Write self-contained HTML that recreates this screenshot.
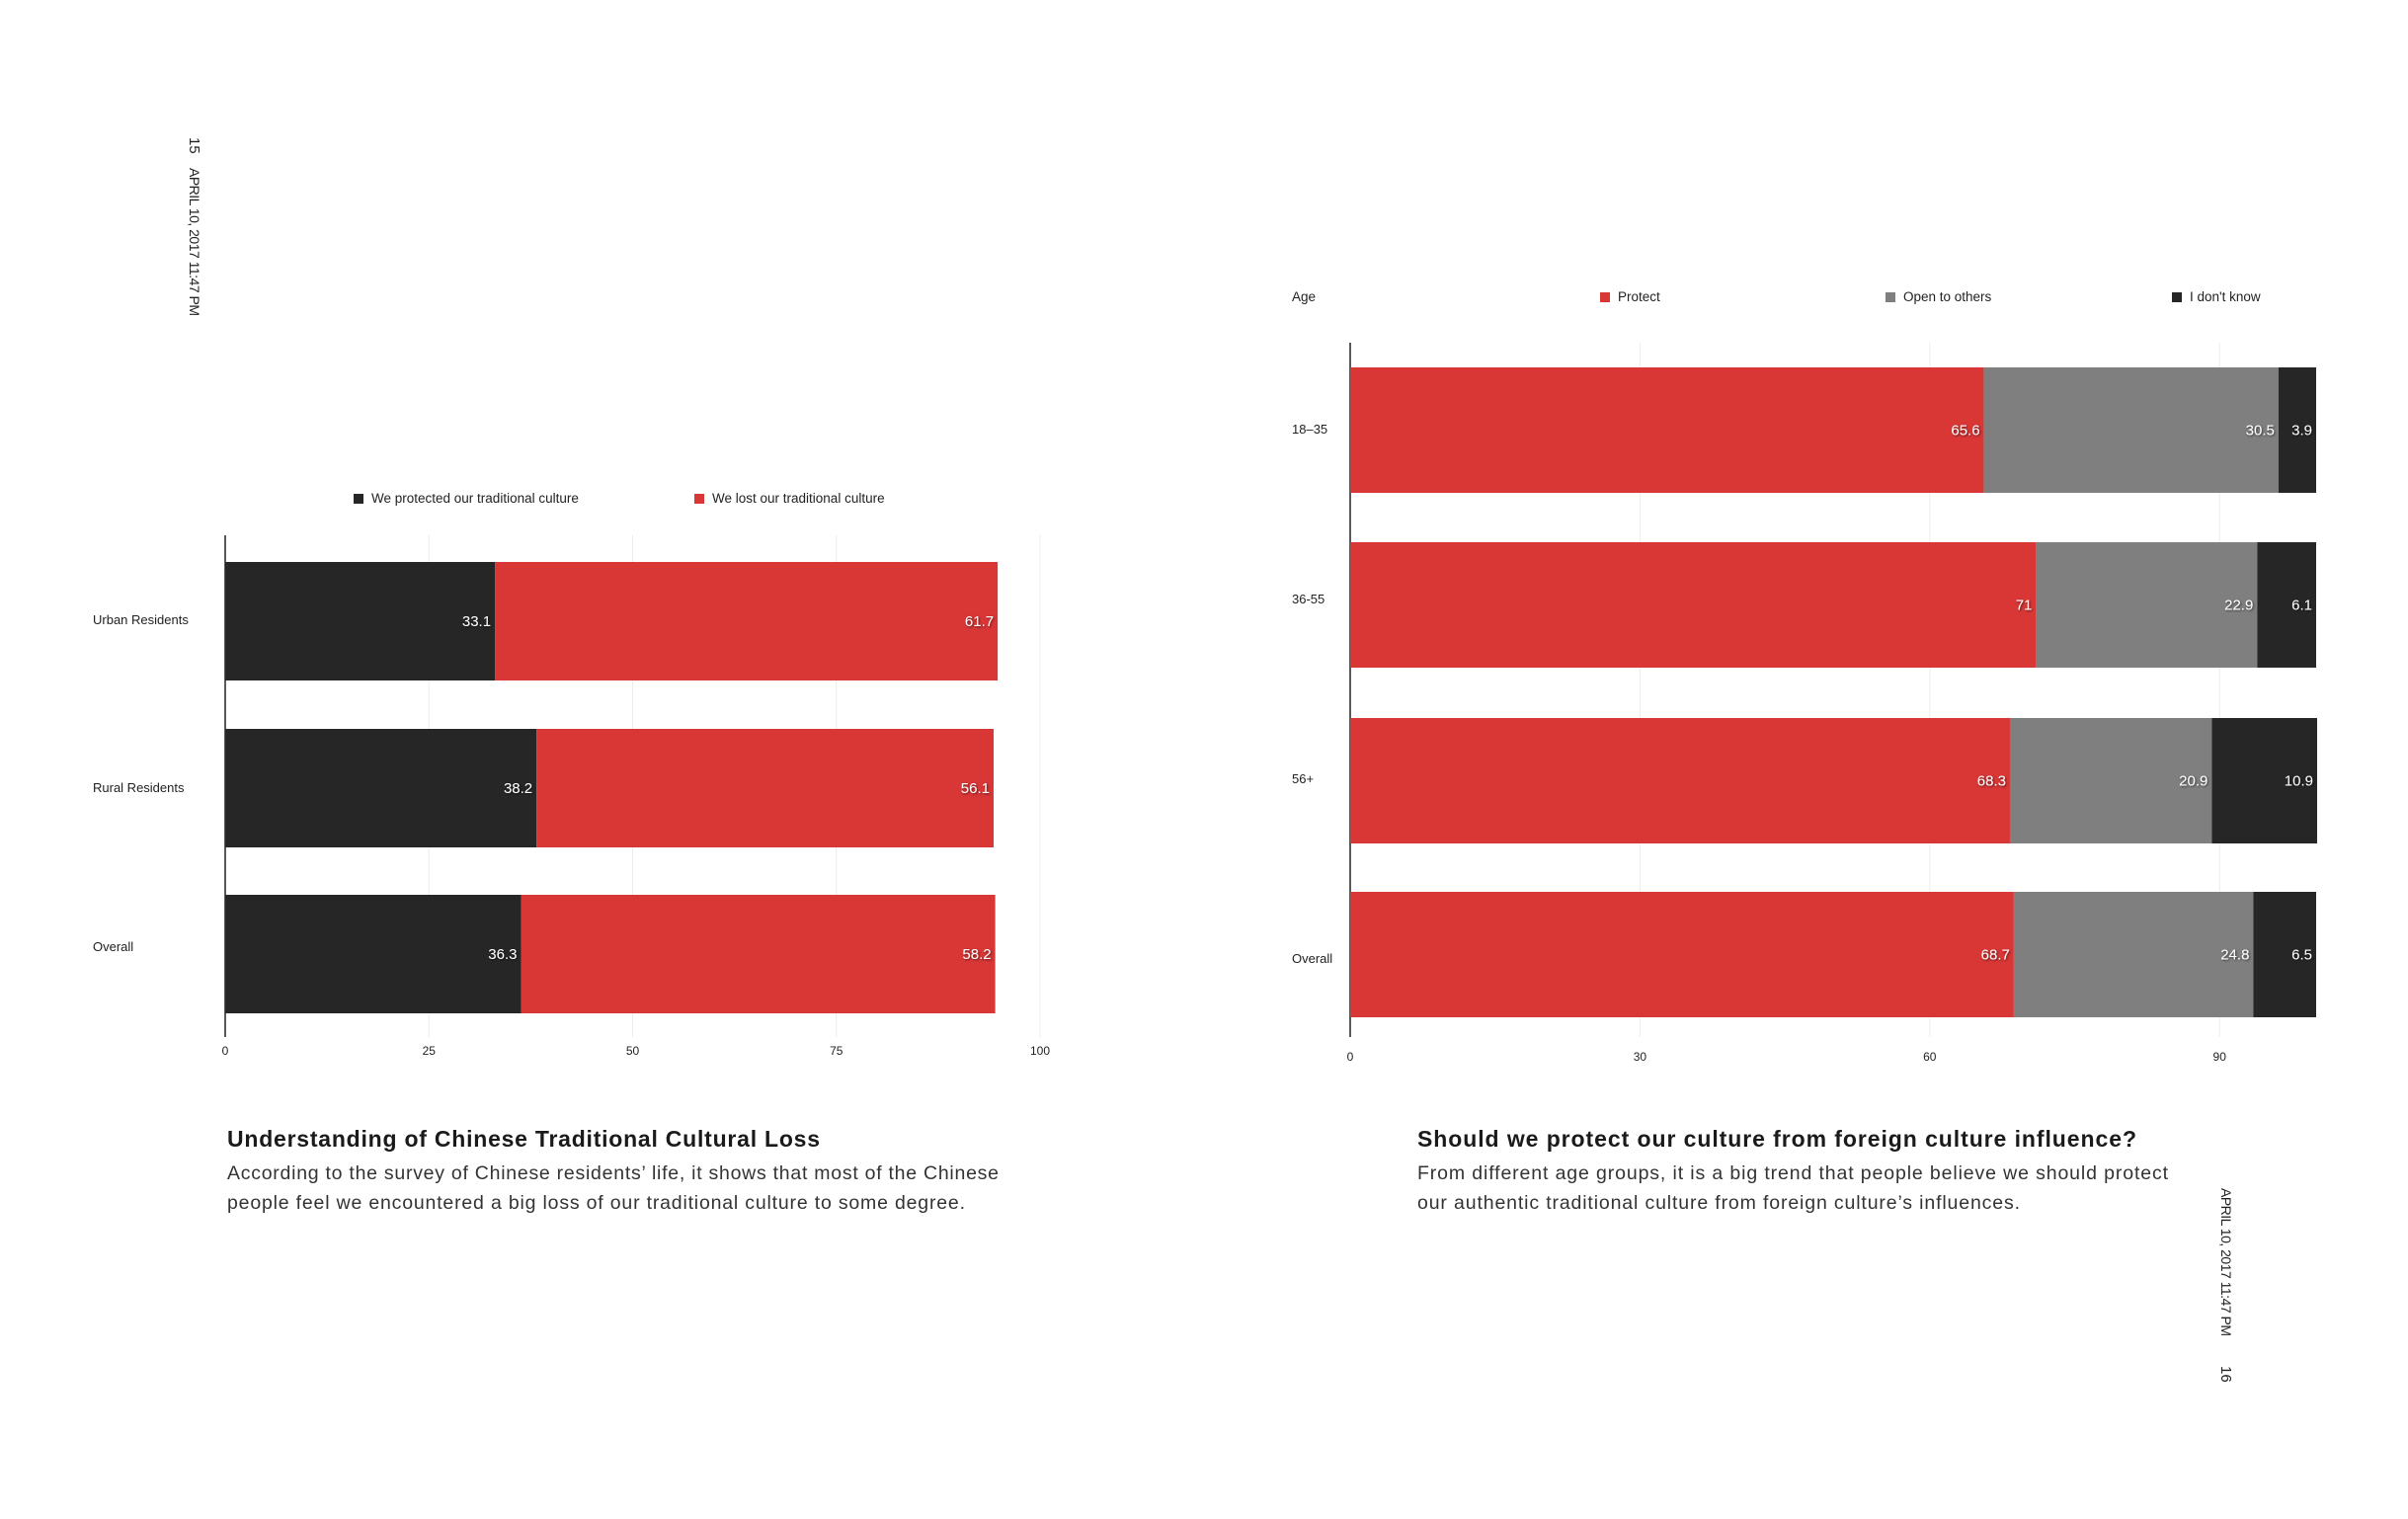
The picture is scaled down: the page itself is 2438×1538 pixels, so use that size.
<!DOCTYPE html>
<html><head><meta charset="utf-8"><style>
html,body{margin:0;padding:0;background:#fff;}
svg{display:block;font-family:"Liberation Sans",sans-serif;}
</style></head><body>
<svg id="s" width="2438" height="1538" viewBox="0 0 2438 1538" xmlns="http://www.w3.org/2000/svg">
<defs><filter id="sh" x="-20%" y="-20%" width="140%" height="140%"><feDropShadow dx="1" dy="1" stdDeviation="1" flood-color="#000" flood-opacity="0.6"/></filter></defs>
<g>
<text transform="translate(192,139) rotate(90)" font-size="15" fill="#222">15</text>
<text transform="translate(192,170) rotate(90)" font-size="14" fill="#222" textLength="150">APRIL 10, 2017 11:47 PM</text>
</g>
<g>
<text transform="translate(2249,1203) rotate(90)" font-size="14" fill="#222" textLength="150">APRIL 10, 2017 11:47 PM</text>
<text transform="translate(2249,1383) rotate(90)" font-size="15" fill="#222">16</text>
</g>
<g id="left"></g>
<g id="right"></g>
<g>
<text x="230" y="1161" font-size="23" font-weight="bold" fill="#1a1a1a" textLength="600">Understanding of Chinese Traditional Cultural Loss</text>
<text x="230" y="1194" font-size="19.5" fill="#333" textLength="781">According to the survey of Chinese residents’ life, it shows that most of the Chinese</text>
<text x="230" y="1224" font-size="19.5" fill="#333" textLength="747">people feel we encountered a big loss of our traditional culture to some degree.</text>
</g>
<g>
<text x="1435" y="1161" font-size="23" font-weight="bold" fill="#1a1a1a" textLength="728">Should we protect our culture from foreign culture influence?</text>
<text x="1435" y="1194" font-size="19.5" fill="#333" textLength="760">From different age groups, it is a big trend that people believe we should protect</text>
<text x="1435" y="1224" font-size="19.5" fill="#333" textLength="610">our authentic traditional culture from foreign culture’s influences.</text>
</g>
</svg>
<script>
const NS="http://www.w3.org/2000/svg";
// Left chart data
const leftCategories=["Urban Residents","Rural Residents","Overall"];
const leftProtected=[33.1,38.2,36.3];
const leftLost=[61.7,56.1,58.2];
const leftTicks=[0,25,50,75,100];
const leftSeriesNames=["We protected our traditional culture","We lost our traditional culture"];
// Right chart data
const rightCategories=["18–35","36-55","56+","Overall"];
const rightProtect=[65.6,71,68.3,68.7];
const rightOpen=[30.5,22.9,20.9,24.8];
const rightDontKnow=[3.9,6.1,10.9,6.5];
const rightTicks=[0,30,60,90];
const rightSeriesNames=["Protect","Open to others","I don't know"];

function el(p,tag,attrs,txt){const e=document.createElementNS(NS,tag);for(const k in attrs)e.setAttribute(k,attrs[k]);if(txt!==undefined)e.textContent=txt;p.appendChild(e);return e;}

function drawChart(g,o){
  const xs=v=>o.x0+(v-0)*(o.x1-o.x0)/o.max;
  o.ticks.forEach(t=>{
    const l=el(g,'line',{x1:xs(t),x2:xs(t),y1:o.yTop,y2:o.yBot,stroke:'#ececec','stroke-width':1});
    
    
    const tx=el(g,'text',{x:xs(t),y:o.tickY,'font-size':12,'text-anchor':'middle',fill:'#222'},String(t));
    
    
  });
  const ax=el(g,'line',{x1:o.x0,x2:o.x0,y1:o.yTop,y2:o.yBot,stroke:'#222','stroke-width':1.5});
  
  
  o.cats.forEach((c,i)=>{
    const y=o.barY[i];
    const lab=el(g,'text',{x:o.labelX,y:o.labelY[i],'font-size':13,fill:'#222'},c);
    
    
    let acc=0;
    o.series.forEach((s,j)=>{
      const v=s[i];
      const r=el(g,'rect',{x:xs(acc),y:y,width:xs(acc+v)-xs(acc),height:o.barH,fill:o.colors[j]});
      
      
      acc+=v;
      const t=el(g,'text',{x:xs(acc)-4,y:y+o.barH/2+5,'font-size':15,'text-anchor':'end',fill:'#fff',filter:'url(#sh)'},String(v));
      
      
    });
  });
  o.legend.forEach((lg,j)=>{
    const sq=el(g,'rect',{x:lg.x,y:o.legendY-9,width:10,height:10,fill:o.colors[j]});
    
    
    const t=el(g,'text',{x:lg.x+(lg.dx||18),y:o.legendY,'font-size':13.5,fill:'#222'},o.names[j]);
    
    
  });
}
drawChart(document.getElementById('left'),{
  x0:228,x1:1053,max:100,yTop:542,yBot:1050,tickY:1068,ticks:leftTicks,
  cats:leftCategories,series:[leftProtected,leftLost],keys:['protected','lost'],
  colors:['#262626','#d93636'],barY:[569,738,906],barH:120,
  labelX:94,labelY:[632,802,963],
  names:leftSeriesNames,legendY:509,legend:[{x:358},{x:703}]
});
drawChart(document.getElementById('right'),{
  x0:1367,x1:2345,max:100,yTop:347,yBot:1050,tickY:1074,ticks:rightTicks,
  cats:rightCategories,series:[rightProtect,rightOpen,rightDontKnow],keys:['protect','open','dontknow'],
  colors:['#d93636','#7f7f7f','#262626'],barY:[372,549,727,903],barH:127,
  labelX:1308,labelY:[439,611,793,975],
  names:rightSeriesNames,legendY:305,legend:[{x:1620},{x:1909},{x:2199}]
});
const age=el(document.getElementById('right'),'text',{x:1308,y:305,'font-size':13.5,fill:'#222'},'Age');


</script>
</body></html>
